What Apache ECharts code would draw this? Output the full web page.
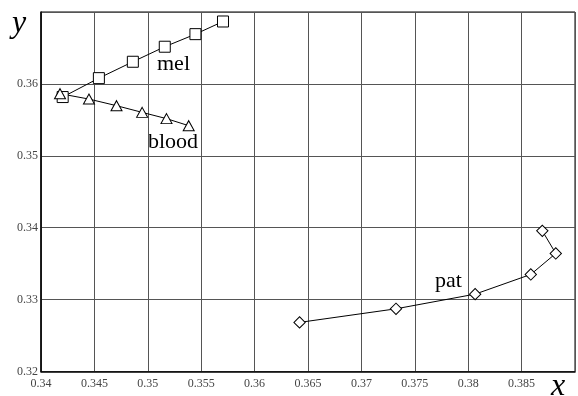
<!DOCTYPE html>
<html><head><meta charset="utf-8">
<script src="https://cdn.jsdelivr.net/npm/echarts@6/dist/echarts.min.js"></script>
<style>html,body{margin:0;padding:0;background:#fff}#c{width:578px;height:396px}</style>
</head><body><div id="c"></div>
<script>
var melX = [0.34203, 0.34542, 0.34860, 0.35159, 0.35446, 0.35704];
var melY = [0.35817, 0.36080, 0.36308, 0.36517, 0.36692, 0.36868];
var bloodX = [0.34178, 0.34449, 0.34707, 0.34947, 0.35175, 0.35383];
var bloodY = [0.35864, 0.35789, 0.35697, 0.35604, 0.35517, 0.35419];
var patX = [0.36421, 0.37324, 0.38065, 0.38586, 0.38820, 0.38694];
var patY = [0.32683, 0.32872, 0.33076, 0.33350, 0.33642, 0.33956];
var xTicks = [0.34, 0.345, 0.35, 0.355, 0.36, 0.365, 0.37, 0.375, 0.38, 0.385];
var yTicks = [0.32, 0.33, 0.34, 0.35, 0.36];

function pairs(xs, ys){ return xs.map(function(x,i){ return [x, ys[i]]; }); }
var serif = '"Liberation Serif", "DejaVu Serif", serif';
function fmt(list){
  return function(v){
    var r = parseFloat(v.toFixed(4));
    for (var i=0;i<list.length;i++){ if (Math.abs(list[i]-r)<1e-6) return String(list[i]); }
    return '';
  };
}
var chart = echarts.init(document.getElementById('c'), null, {renderer:'canvas'});
var lineStyle = {color:'#000', width:1};
var itemStyle = {color:'#fff', borderColor:'#000', borderWidth:1};
chart.setOption({
  animation:false,
  backgroundColor:'#fff',
  grid:{left:41, right:3, top:12, bottom:24.5, show:true, borderColor:'#000', borderWidth:1, backgroundColor:'transparent'},
  xAxis:{type:'value', min:0.34, max:0.39, interval:0.005,
    axisLine:{show:true, onZero:false, lineStyle:{color:'#000', width:1.5}},
    axisTick:{show:false},
    splitLine:{show:true, lineStyle:{color:'#555', width:1}},
    axisLabel:{formatter:fmt(xTicks), color:'#444', fontFamily:serif, fontSize:12, margin:6}
  },
  yAxis:{type:'value', min:0.32, max:0.37, interval:0.01,
    axisLine:{show:true, onZero:false, lineStyle:{color:'#000', width:1.5}},
    axisTick:{show:false},
    splitLine:{show:true, lineStyle:{color:'#555', width:1}},
    axisLabel:{formatter:fmt(yTicks), color:'#444', fontFamily:serif, fontSize:12, margin:3}
  },
  series:[
    {name:'mel', type:'line', data:pairs(melX, melY), symbol:'rect', symbolSize:11, showAllSymbol:true,
      lineStyle:lineStyle, itemStyle:itemStyle},
    {name:'blood', type:'line', data:pairs(bloodX, bloodY), symbol:'triangle', symbolSize:[11,10], showAllSymbol:true,
      lineStyle:lineStyle, itemStyle:itemStyle},
    {name:'pat', type:'line', data:pairs(patX, patY), symbol:'rect', symbolSize:8, symbolRotate:45, showAllSymbol:true,
      lineStyle:lineStyle, itemStyle:itemStyle}
  ],
  graphic:[
    {type:'text', style:{text:'mel', x:157, y:64.5, font:'22px '+serif, fill:'#000', textVerticalAlign:'middle'}},
    {type:'text', style:{text:'blood', x:148, y:142.5, font:'22px '+serif, fill:'#000', textVerticalAlign:'middle'}},
    {type:'text', style:{text:'pat', x:435, y:281.5, font:'22px '+serif, fill:'#000', textVerticalAlign:'middle'}},
    {type:'text', style:{text:'y', x:12, y:24, font:'italic 32px '+serif, fill:'#000', textVerticalAlign:'middle'}},
    {type:'text', style:{text:'x', x:551, y:387, font:'italic 32px '+serif, fill:'#000', textVerticalAlign:'middle'}}
  ]
});
</script></body></html>
